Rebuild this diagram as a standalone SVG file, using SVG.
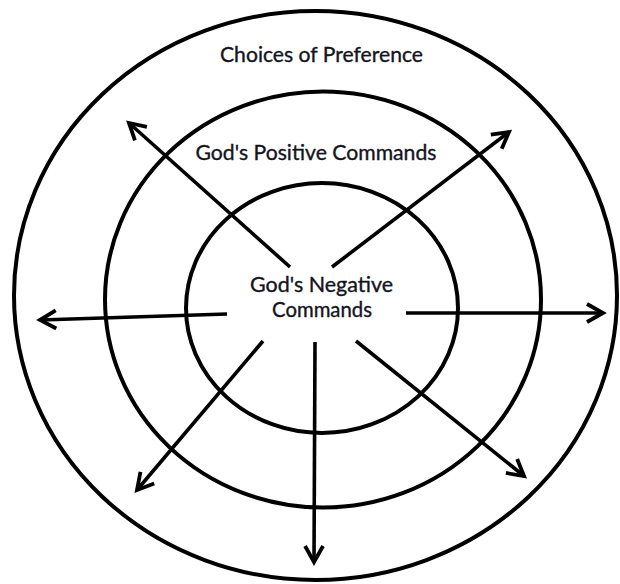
<svg xmlns="http://www.w3.org/2000/svg" width="620" height="584" viewBox="0 0 620 584">
  <style>
    .ring { fill: none; stroke: #000; stroke-width: 4; }
    .arrow { fill: none; stroke: #000; stroke-width: 3.6; marker-end: url(#head); }
    .label { font-family: Lato, "Open Sans", "Liberation Sans", sans-serif; font-size: 21px; fill: #14141e; stroke: #14141e; stroke-width: 0.35; text-anchor: middle; }
  </style>
  <defs>
    <!-- open chevron arrowhead, sized in user units -->
    <marker id="head" markerUnits="userSpaceOnUse" markerWidth="30" markerHeight="30" viewBox="-20 -15 30 30" refX="0" refY="0" orient="auto" overflow="visible">
      <path d="M-16,-9 L0,0 L-16,9" fill="none" stroke="#000" stroke-width="3.8" stroke-linejoin="miter" stroke-linecap="butt"/>
    </marker>
  </defs>
  <rect width="620" height="584" fill="#fff"/>

  <!-- outer ring -->
  <g id="choices-of-preference">
    <ellipse class="ring" cx="315.5" cy="295.5" rx="301.5" ry="284.5"/>
    <text class="label" x="321.5" y="62" textLength="203" lengthAdjust="spacingAndGlyphs">Choices of Preference</text>
  </g>

  <!-- middle ring -->
  <g id="positive-commands">
    <ellipse class="ring" cx="323" cy="299.5" rx="218" ry="208"/>
    <text class="label" x="316" y="160" textLength="241" lengthAdjust="spacingAndGlyphs">God's Positive Commands</text>
  </g>

  <!-- inner ring -->
  <g id="negative-commands">
    <ellipse class="ring" cx="322" cy="308" rx="136" ry="125"/>
    <text class="label" x="321.5" y="292" textLength="143" lengthAdjust="spacingAndGlyphs">God's Negative</text>
    <text class="label" x="322" y="317" textLength="100" lengthAdjust="spacingAndGlyphs">Commands</text>
  </g>

  <!-- arrows radiating from the centre -->
  <g id="connectors">
    <line class="arrow" x1="290" y1="267" x2="129" y2="123"/>
    <line class="arrow" x1="332" y1="267" x2="509" y2="132"/>
    <line class="arrow" x1="227" y1="314" x2="40" y2="320"/>
    <line class="arrow" x1="406" y1="313" x2="603" y2="313"/>
    <line class="arrow" x1="263" y1="341" x2="137" y2="490"/>
    <line class="arrow" x1="315" y1="342" x2="314" y2="562"/>
    <line class="arrow" x1="356" y1="341" x2="524" y2="476"/>
  </g>
</svg>
